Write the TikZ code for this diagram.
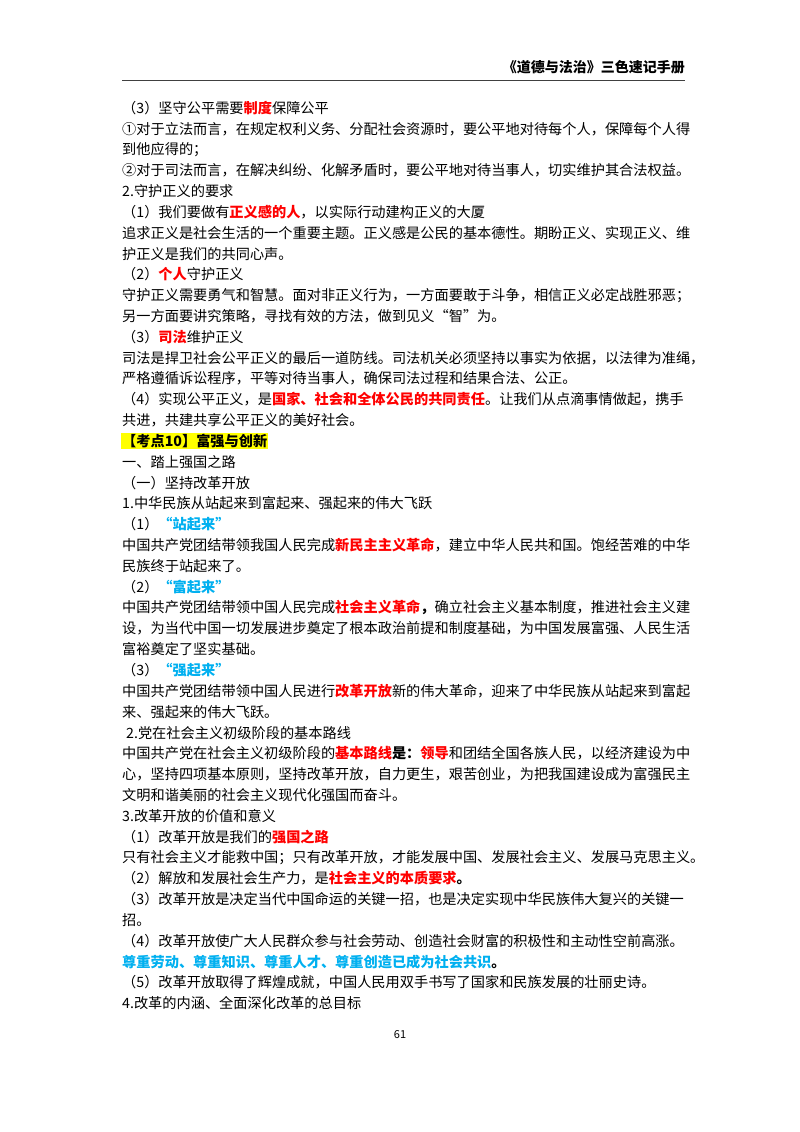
\documentclass[tikz,border=0pt]{standalone}
\usepackage{fontspec}
\setmainfont{Noto Sans CJK SC}
\definecolor{tred}{HTML}{FF0000}
\definecolor{tblue}{HTML}{00B0F0}
\definecolor{hl}{HTML}{FFFF00}
\newcommand\Rd[1]{\textcolor{tred}{\textbf{#1}}}
\newcommand\Bl[1]{\textcolor{tblue}{\textbf{#1}}}
\tikzset{ln/.style={anchor=west,inner sep=0pt,font=\fontsize{14.2}{16}\selectfont}}
\newcommand\Ln[2]{\node[ln] (l#1) at (122,{108+20.82*#1}) {#2};}
\begin{document}
\begin{tikzpicture}[x=1pt,y=-1pt]
\useasboundingbox[fill=white] (0,0) rectangle (800,1132);
\node[anchor=east,inner sep=0pt,font=\fontsize{14}{16}\selectfont\bfseries] (hd) at (685,67) {《道德与法治》三色速记手册};
\coordinate (hl1) at (122,80); \coordinate (hl2) at (685,80);
\draw[line width=0.9pt,black!75] (hl1) -- (hl2);
\Ln{0}{（3）坚守公平需要\Rd{制度}保障公平}
\Ln{1}{①对于立法而言，在规定权利义务、分配社会资源时，要公平地对待每个人，保障每个人得}
\Ln{2}{到他应得的；}
\Ln{3}{②对于司法而言，在解决纠纷、化解矛盾时，要公平地对待当事人，切实维护其合法权益。}
\Ln{4}{2.守护正义的要求}
\Ln{5}{（1）我们要做有\Rd{正义感的人}，以实际行动建构正义的大厦}
\Ln{6}{追求正义是社会生活的一个重要主题。正义感是公民的基本德性。期盼正义、实现正义、维}
\Ln{7}{护正义是我们的共同心声。}
\Ln{8}{（2）\Rd{个人}守护正义}
\Ln{9}{守护正义需要勇气和智慧。面对非正义行为，一方面要敢于斗争，相信正义必定战胜邪恶；}
\Ln{10}{另一方面要讲究策略，寻找有效的方法，做到见义“智”为。}
\Ln{11}{（3）\Rd{司法}维护正义}
\Ln{12}{司法是捍卫社会公平正义的最后一道防线。司法机关必须坚持以事实为依据，以法律为准绳，}
\Ln{13}{严格遵循诉讼程序，平等对待当事人，确保司法过程和结果合法、公正。}
\Ln{14}{（4）实现公平正义，是\Rd{国家、社会和全体公民的共同责任}。让我们从点滴事情做起，携手}
\Ln{15}{共进，共建共享公平正义的美好社会。}
\node[ln,fill=hl,inner sep=1pt,font=\fontsize{14.2}{16}\selectfont\bfseries] (l16) at (121,{108+20.82*16}) {【考点10】富强与创新};
\Ln{17}{一、踏上强国之路}
\Ln{18}{（一）坚持改革开放}
\Ln{19}{1.中华民族从站起来到富起来、强起来的伟大飞跃}
\Ln{20}{（1）\Bl{“站起来”}}
\Ln{21}{中国共产党团结带领我国人民完成\Rd{新民主主义革命}，建立中华人民共和国。饱经苦难的中华}
\Ln{22}{民族终于站起来了。}
\Ln{23}{（2）\Bl{“富起来”}}
\Ln{24}{中国共产党团结带领中国人民完成\Rd{社会主义革命}\textbf{，}确立社会主义基本制度，推进社会主义建}
\Ln{25}{设，为当代中国一切发展进步奠定了根本政治前提和制度基础，为中国发展富强、人民生活}
\Ln{26}{富裕奠定了坚实基础。}
\Ln{27}{（3）\Bl{“强起来”}}
\Ln{28}{中国共产党团结带领中国人民进行\Rd{改革开放}新的伟大革命，迎来了中华民族从站起来到富起}
\Ln{29}{来、强起来的伟大飞跃。}
\Ln{30}{\hspace{4pt}2.党在社会主义初级阶段的基本路线}
\Ln{31}{中国共产党在社会主义初级阶段的\Rd{基本路线}\textbf{是：}\Rd{领导}和团结全国各族人民，以经济建设为中}
\Ln{32}{心，坚持四项基本原则，坚持改革开放，自力更生，艰苦创业，为把我国建设成为富强民主}
\Ln{33}{文明和谐美丽的社会主义现代化强国而奋斗。}
\Ln{34}{3.改革开放的价值和意义}
\Ln{35}{（1）改革开放是我们的\Rd{强国之路}}
\Ln{36}{只有社会主义才能救中国；只有改革开放，才能发展中国、发展社会主义、发展马克思主义。}
\Ln{37}{（2）解放和发展社会生产力，是\Rd{社会主义的本质要求}\textbf{。}}
\Ln{38}{（3）改革开放是决定当代中国命运的关键一招，也是决定实现中华民族伟大复兴的关键一}
\Ln{39}{招。}
\Ln{40}{（4）改革开放使广大人民群众参与社会劳动、创造社会财富的积极性和主动性空前高涨。}
\Ln{41}{\Bl{尊重劳动、尊重知识、尊重人才、尊重创造已成为社会共识}\textbf{。}}
\Ln{42}{（5）改革开放取得了辉煌成就，中国人民用双手书写了国家和民族发展的壮丽史诗。}
\Ln{43}{4.改革的内涵、全面深化改革的总目标}
\node[inner sep=0pt,font=\fontsize{11}{13}\selectfont] (pg) at (400,1035) {61};
\end{tikzpicture}
\end{document}
